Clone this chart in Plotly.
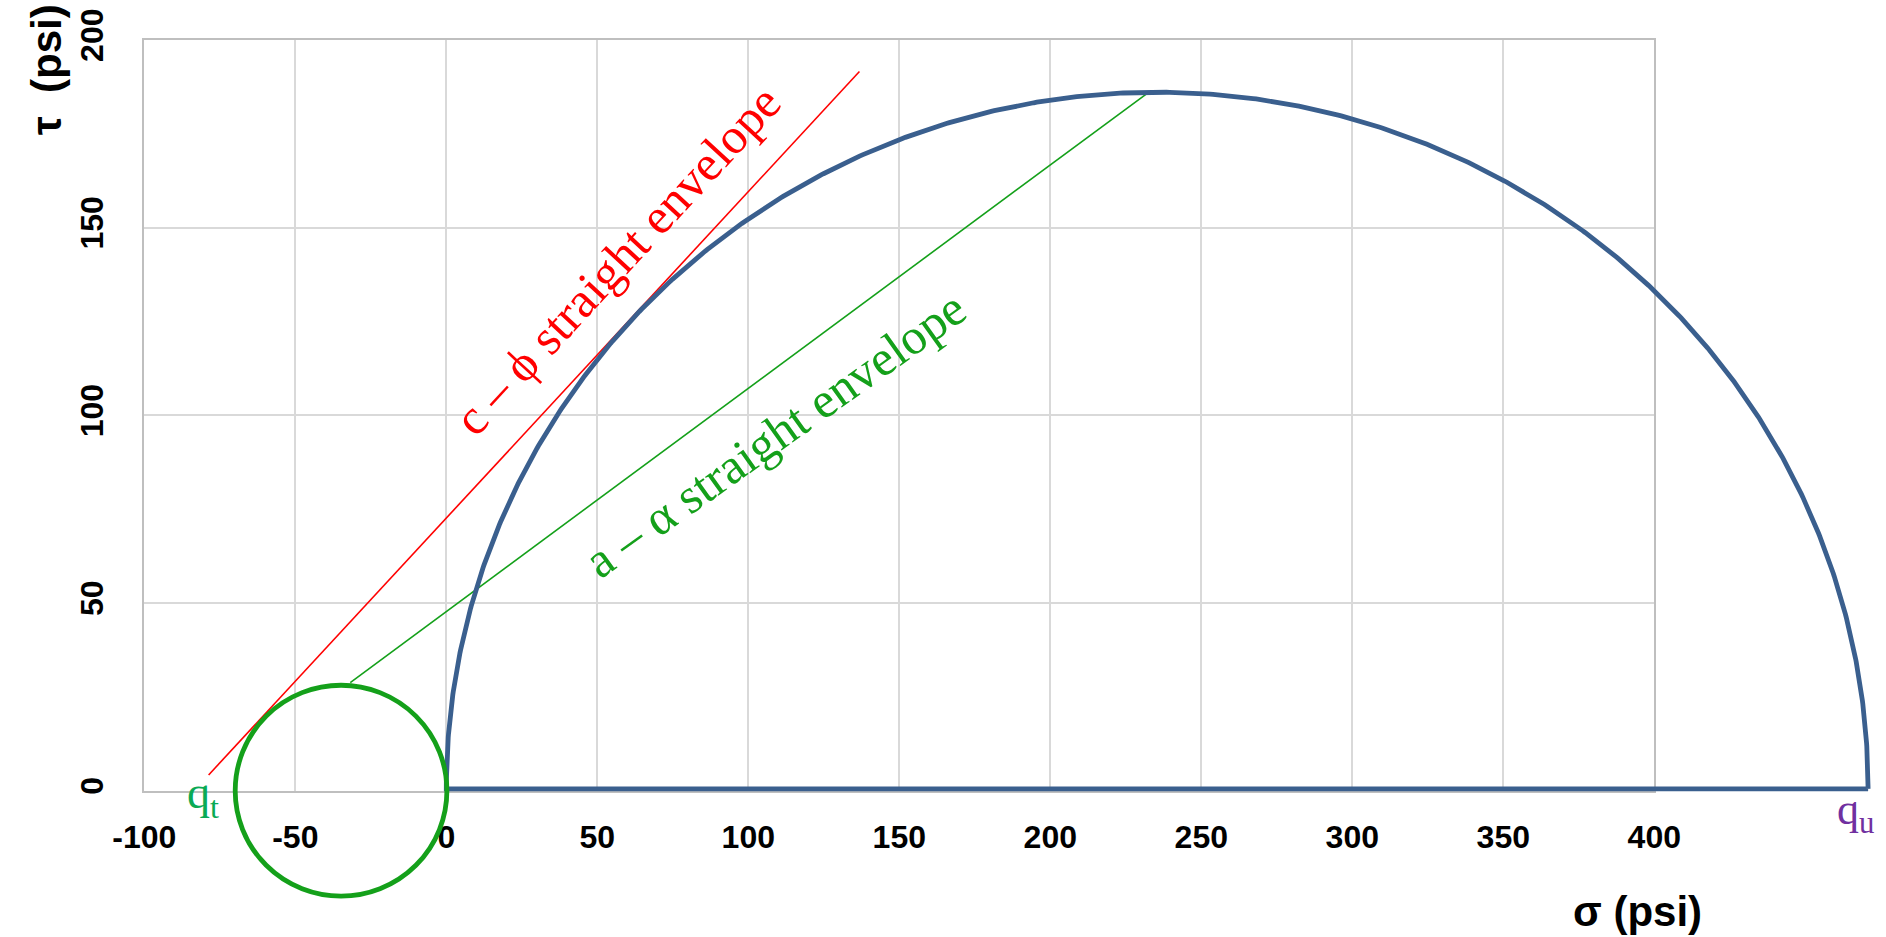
import numpy as np
import plotly.graph_objects as go

# ---------------- values ----------------
x_tick_vals = [-100, -50, 0, 50, 100, 150, 200, 250, 300, 350, 400]
x_tick_text = ["-100", "-50", "0", "50", "100", "150", "200", "250", "300", "350", "400"]
y_tick_vals = [0, 50, 100, 150, 200]
y_tick_text = ["0", "50", "100", "150", "200"]
x_range = [-100, 400]
y_range = [0, 200]

# unconfined-compression Mohr circle: sigma 0 .. q_u
qu_sigma_ends = [0.0, 470.8]
qu_tau_peak = 186.1
qu_base_tau = 0.5

# tension Mohr circle: sigma q_t .. 0
qt_sigma_ends = [-69.9, 0.2]
qt_tau_ends = [-28.1, 28.1]

# straight envelopes (end points)
cphi_sigma = [-78.7, 136.8]
cphi_tau = [4.2, 191.6]
aalpha_sigma = [-31.8, 232.1]
aalpha_tau = [28.8, 185.8]

# ---------------- layout geometry (pixels) ----------------
W, H = 1886, 937
L, R, T, B = 144.3, 1654.3, 40.0, 790.7

BLUE = "#3A5F8E"
GREEN = "#14A01A"
RED = "#FF0000"
QT_COL = "#0AAA55"
QU_COL = "#7030A0"
SANS = "Liberation Sans, Arial, sans-serif"
SERIF = "Liberation Serif, Times New Roman, serif"

xpp = (R - L) / (x_range[1] - x_range[0])
ypp = (B - T) / (y_range[1] - y_range[0])
x2_range = [x_range[0] - L / xpp, x_range[1] + (W - R) / xpp]
y2_range = [y_range[0] - (H - B) / ypp, y_range[1] + T / ypp]

fig = go.Figure()

# envelopes on the main axes
fig.add_trace(go.Scatter(x=cphi_sigma, y=cphi_tau, mode="lines",
                         line=dict(color=RED, width=1.6), showlegend=False, hoverinfo="skip"))
fig.add_trace(go.Scatter(x=aalpha_sigma, y=aalpha_tau, mode="lines",
                         line=dict(color=GREEN, width=1.6), showlegend=False, hoverinfo="skip"))

# big semicircle (on overlay axes so it is not clipped at sigma = 400)
c = (qu_sigma_ends[0] + qu_sigma_ends[1]) / 2
a = (qu_sigma_ends[1] - qu_sigma_ends[0]) / 2
th = np.linspace(0, np.pi, 721)
sx = list(c + a * np.cos(th)) + [qu_sigma_ends[1]]
sy = list(qu_base_tau + (qu_tau_peak - qu_base_tau) * np.sin(th)) + [qu_base_tau]
fig.add_trace(go.Scatter(x=sx, y=sy, mode="lines", xaxis="x2", yaxis="y2",
                         line=dict(color=BLUE, width=4.8),
                         showlegend=False, hoverinfo="skip"))

# small tension circle
fig.add_shape(type="circle", xref="x2", yref="y2",
              x0=qt_sigma_ends[0], x1=qt_sigma_ends[1], y0=qt_tau_ends[0], y1=qt_tau_ends[1],
              line=dict(color=GREEN, width=4.8))

tickfont = dict(family=SANS, size=32, color="black", weight="bold")
fig.update_layout(
    width=W, height=H,
    margin=dict(l=0, r=0, t=0, b=0, pad=0, autoexpand=False),
    paper_bgcolor="white", plot_bgcolor="rgba(0,0,0,0)",
    xaxis=dict(domain=[L / W, R / W], range=x_range, tickvals=x_tick_vals, ticktext=x_tick_text,
               showgrid=True, gridcolor="#D9D9D9", gridwidth=2, automargin=False,
               showline=True, linecolor="#BFBFBF", linewidth=2, mirror=True,
               zeroline=False, ticks="", ticklabelstandoff=17, tickangle=0,
               tickfont=tickfont),
    yaxis=dict(domain=[1 - B / H, 1 - T / H], range=y_range, tickvals=y_tick_vals, ticktext=y_tick_text,
               showgrid=True, gridcolor="#D9D9D9", gridwidth=2, automargin=False,
               showline=True, linecolor="#BFBFBF", linewidth=2, mirror=True,
               zeroline=False, ticks="", tickangle=-90, ticklabelstandoff=27,
               tickfont=tickfont),
    xaxis2=dict(domain=[0, 1], range=x2_range, visible=False, anchor="y2", automargin=False),
    yaxis2=dict(domain=[0, 1], range=y2_range, visible=False, anchor="x2", automargin=False),
)

annos = [
    dict(text="c \u2013 \u03d5 straight envelope", x=56.6, y=141.4, xref="x", yref="y",
         textangle=-47.3, font=dict(family=SERIF, size=50, color=RED)),
    dict(text="a \u2013 \u03b1 straight envelope", x=109, y=95, xref="x", yref="y",
         textangle=-35.5, font=dict(family=SERIF, size=50, color=GREEN)),
    dict(text="q<sub>t</sub>", x=-80.4, y=-1.3, xref="x2", yref="y2",
         font=dict(family=SERIF, size=46, color=QT_COL)),
    dict(text="q<sub>u</sub>", x=466.7, y=-5.8, xref="x2", yref="y2",
         font=dict(family=SERIF, size=44, color=QU_COL)),
    dict(text="\u03c3 (psi)", x=1637 / W, y=1 - 911 / H, xref="paper", yref="paper",
         font=dict(family=SANS, size=42, color="black", weight="bold")),
    dict(text="\u03c4\u00a0\u00a0(psi)", x=47 / W, y=1 - 70 / H, xref="paper", yref="paper",
         textangle=-90, font=dict(family=SANS, size=42, color="black", weight="bold")),
]
for an in annos:
    an.update(showarrow=False, xanchor="center", yanchor="middle")
    fig.add_annotation(**an)

fig.write_html("out.html", config={"displayModeBar": False},
               post_script="document.body.style.margin='0';document.body.style.overflow='hidden';")
